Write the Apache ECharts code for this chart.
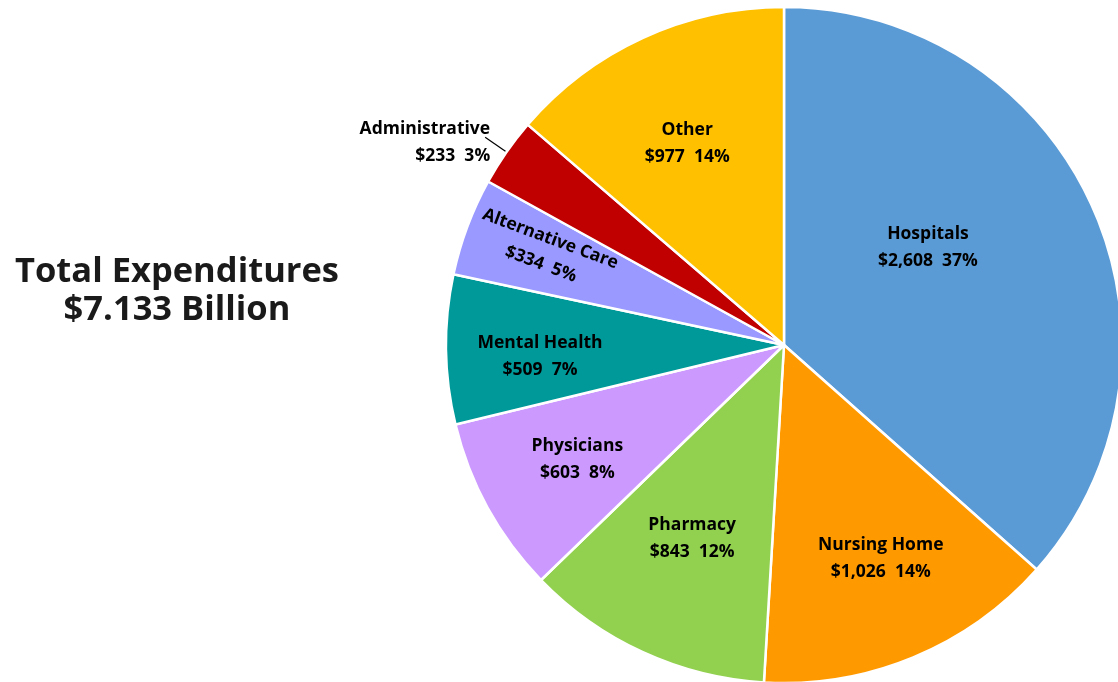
<!DOCTYPE html>
<html><head><meta charset="utf-8">
<script src="https://cdn.jsdelivr.net/npm/echarts@6/dist/echarts.min.js"></script>
<style>html,body{margin:0;padding:0;background:#fff}#c{width:1118px;height:682px}</style>
</head><body><div id="c"></div>
<script>
const categories = ['Hospitals','Nursing Home','Pharmacy','Physicians','Mental Health','Alternative Care','Administrative','Other'];
const values = [2608, 1026, 843, 603, 509, 334, 233, 977];
const colors = ['#5B9BD5','#FF9900','#92D050','#CC99FF','#009999','#9999FF','#C00000','#FFC000'];
const titleText = 'Total Expenditures\n$7.133 Billion';
// label nudges from default inside position (layout only)
const nudge = [[-13,-27],[31,55],[-20,37],[-56,32],[-72,9],[-84,-4],[10,5],[-25,-45]];
const FONT = 'Open Sans';
const chart = echarts.init(document.getElementById('c'), null, {renderer:'canvas'});
const total = values.reduce((a,b)=>a+b,0);
const data = categories.map((n,i)=>{
  const d = {name:n, value:values[i], itemStyle:{color:colors[i]}};
  if (n==='Alternative Care') d.label = {rotate:'radial'};
  if (n==='Administrative') d.label = {position:'outside', align:'center'};
  if (n==='Administrative') d.labelLine = {show:true, length:26, length2:0, lineStyle:{color:'#000', width:1.2}};
  return d;
});
chart.setOption({
  animation:false,
  title:{text:titleText, left:172, top:248, textAlign:'center',
    textStyle:{fontFamily:FONT, fontWeight:'bold', fontSize:34.5, lineHeight:38, color:'#1a1a1a'}},
  series:[{
    type:'pie', center:[784,345], radius:338, startAngle:90, clockwise:true,
    itemStyle:{borderColor:'#fff', borderWidth:2.5},
    label:{show:true, position:'inside', fontFamily:FONT, fontWeight:'bold', fontSize:17.5, lineHeight:27, color:'#000',
      formatter:p=>p.name+'\n$'+p.value.toLocaleString('en-US')+'  '+Math.round(p.value/total*100)+'%'},
    labelLine:{show:false},
    labelLayout:p=>{const n=nudge[p.dataIndex]; return {dx:n[0],dy:n[1]};},
    data:data
  }]
});
</script></body></html>
